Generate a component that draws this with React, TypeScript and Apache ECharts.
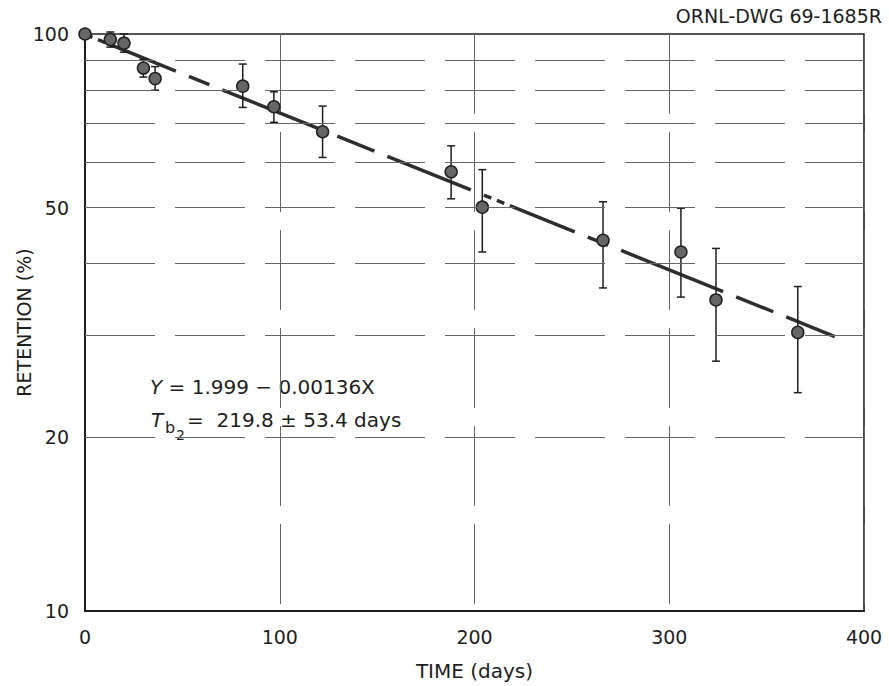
import React, { useEffect, useRef } from "react";
import * as echarts from "echarts";

// ---- data ----
const days = [0, 13, 20, 30, 36, 81, 97, 122, 188, 204, 266, 306, 324, 366];
const retention = [100, 97.8, 96.4, 87.3, 83.7, 81.2, 74.8, 67.7, 57.7, 50.1, 43.9, 41.9, 34.6, 30.4];
const errLow = [null, 94.9, 93.0, 84.2, 79.9, 74.6, 70.3, 61.1, 51.8, 41.9, 36.3, 35.0, 27.1, 23.9];
const errHigh = [null, 100.8, 100.0, 90.4, 87.8, 88.7, 79.4, 75.0, 64.0, 58.2, 51.2, 49.9, 42.5, 36.5];
const fitDays = [0, 385];
const fitRetention = [99.8, 29.9];
const yGridLevels = [20, 30, 40, 50, 60, 70, 80, 90];
const yLabeledLevels = [20, 50];

const FONT = "DejaVu Sans";
const INK = "#1e1e1e";

export default function App() {
  const ref = useRef<HTMLDivElement>(null);

  useEffect(() => {
    if (!ref.current) return;
    const chart = echarts.init(ref.current, undefined, { renderer: "svg" });

    const errData = days
      .map((d, i) => [d, errLow[i], errHigh[i]])
      .filter((r) => r[1] != null && r[2] != null);

    const option: any = {
      animation: false,
      backgroundColor: "#ffffff",
      textStyle: { fontFamily: FONT, color: INK },
      grid: {
        left: 85,
        right: 25,
        top: 34,
        bottom: 75,
        containLabel: false,
        outerBoundsMode: "none",
        show: true,
        borderColor: INK,
        borderWidth: 1.6,
      },
      xAxis: {
        type: "value",
        min: 0,
        max: 400,
        interval: 100,
        name: "TIME (days)",
        nameLocation: "middle",
        nameGap: 50,
        nameMoveOverlap: false,
        nameTextStyle: { fontSize: 20, fontFamily: FONT, color: INK },
        axisLine: { show: true, lineStyle: { color: INK, width: 2 } },
        axisTick: { show: false },
        axisLabel: { fontSize: 19, fontFamily: FONT, color: INK, margin: 16 },
        splitLine: {
          show: true,
          lineStyle: { color: "#666", width: 1, type: [80, 18] },
        },
      },
      yAxis: {
        type: "log",
        logBase: 10,
        min: 10,
        max: 100,
        name: "RETENTION (%)",
        nameLocation: "middle",
        nameGap: 52,
        nameRotate: 90,
        nameMoveOverlap: false,
        nameTextStyle: { fontSize: 19, fontFamily: FONT, color: INK },
        axisLine: { show: true, lineStyle: { color: INK, width: 2 } },
        axisTick: { show: false },
        axisLabel: { fontSize: 19, fontFamily: FONT, color: INK, margin: 16 },
        splitLine: { show: false },
      },
      series: [
        {
          type: "custom",
          name: "error",
          z: 3,
          data: errData,
          renderItem: (_params: any, api: any) => {
            const x = api.value(0);
            const lo = api.value(1);
            const hi = api.value(2);
            const pLo = api.coord([x, lo]);
            const pHi = api.coord([x, hi]);
            const w = 4;
            const style = { stroke: INK, lineWidth: 1.5 };
            return {
              type: "group",
              children: [
                { type: "line", shape: { x1: pLo[0], y1: pLo[1], x2: pHi[0], y2: pHi[1] }, style },
                { type: "line", shape: { x1: pLo[0] - w, y1: pLo[1], x2: pLo[0] + w, y2: pLo[1] }, style },
                { type: "line", shape: { x1: pHi[0] - w, y1: pHi[1], x2: pHi[0] + w, y2: pHi[1] }, style },
              ],
            };
          },
        },
        {
          type: "line",
          name: "fit",
          z: 2,
          data: fitDays.map((d, i) => [d, fitRetention[i]]),
          symbol: "none",
          showSymbol: false,
          lineStyle: {
            color: "#2e2e2e",
            width: 3.5,
            type: [8, 6, 8, 6, 70, 14, 22, 14, 110, 14, 40, 14, 90, 14],
          },
          markLine: {
            silent: true,
            symbol: "none",
            animation: false,
            lineStyle: { color: "#666", width: 1, type: [70, 20] },
            label: { show: false },
            data: yGridLevels.map((v) => ({
              yAxis: v,
              label: yLabeledLevels.includes(v)
                ? {
                    show: true,
                    position: "start",
                    distance: 16,
                    formatter: String(v),
                    fontSize: 19,
                    fontFamily: FONT,
                    color: INK,
                  }
                : { show: false },
            })),
          },
        },
        {
          type: "scatter",
          name: "retention",
          z: 4,
          data: days.map((d, i) => [d, retention[i]]),
          symbol: "circle",
          symbolSize: 12,
          itemStyle: { color: "#666", borderColor: "#222", borderWidth: 1.5, opacity: 1 },
        },
      ],
      graphic: [
        {
          type: "text",
          right: 7,
          top: 6,
          style: { text: "ORNL-DWG 69-1685R", fontSize: 19, fontFamily: FONT, fill: INK },
        },
        {
          type: "text",
          left: 150,
          top: 377,
          style: {
            text: "{i|Y} = 1.999 − 0.00136X",
            fontSize: 20,
            fontFamily: FONT,
            fill: INK,
            rich: { i: { fontStyle: "italic", fontSize: 20, fontFamily: FONT, fill: INK } },
          },
        },
        {
          type: "text",
          left: 151,
          top: 410,
          style: { text: "T", fontStyle: "italic", fontSize: 20, fontFamily: FONT, fill: INK },
        },
        {
          type: "text",
          left: 165,
          top: 419,
          style: { text: "b", fontSize: 16, fontFamily: FONT, fill: INK },
        },
        {
          type: "text",
          left: 176,
          top: 428,
          style: { text: "2", fontSize: 14, fontFamily: FONT, fill: INK },
        },
        {
          type: "text",
          left: 187,
          top: 410,
          style: { text: "=  219.8 ± 53.4 days", fontSize: 20, fontFamily: FONT, fill: INK },
        },
      ],
    };

    chart.setOption(option);
    return () => chart.dispose();
  }, []);

  return (
    <div
      ref={ref}
      style={{ position: "fixed", left: 0, top: 0, width: 889, height: 686, background: "#fff" }}
    />
  );
}
